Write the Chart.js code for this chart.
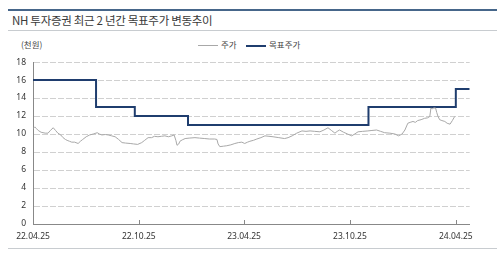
<!DOCTYPE html>
<html>
<head>
<meta charset="utf-8">
<script src="https://cdn.jsdelivr.net/npm/chart.js@4.4.1/dist/chart.umd.min.js"></script>
<style>
  body { margin: 0; background: #fff; width: 500px; height: 253px; overflow: hidden; position: relative;
         font-family: "Noto Sans CJK KR", "Noto Sans", sans-serif; }
  .topline { position: absolute; left: 8px; top: 9px; width: 489px; height: 2px; background: #46668a; }
  .title { position: absolute; left: 12px; top: 12px; font-size: 11.5px; color: #3a3a3a; letter-spacing: -0.3px; }
  .subline { position: absolute; left: 8px; top: 30px; width: 489px; height: 1px; background: #c8ccd0; }
  .bottomline { position: absolute; left: 8px; top: 248px; width: 489px; height: 1px; background: #c8ccd0; }
  .unit { position: absolute; left: 21px; top: 38px; font-size: 8.5px; color: #444; }
  .legend { position: absolute; top: 38px; font-size: 8.5px; color: #444; }
  .legend span.l { display: inline-block; width: 20px; vertical-align: middle; margin-right: 3px; }
  #wrap { position: absolute; left: 0; top: 50px; width: 480px; height: 198px; }
</style>
</head>
<body>
<div class="topline"></div>
<div class="title">NH 투자증권 최근 2 년간 목표주가 변동추이</div>
<div class="subline"></div>
<div class="unit">(천원)</div>
<div class="legend" style="left:198px"><span class="l" style="border-top:1px solid #a8a8a8"></span>주가</div>
<div class="legend" style="left:246px"><span class="l" style="border-top:2px solid #1f3d6e"></span>목표주가</div>
<div id="wrap"><canvas id="myChart"></canvas></div>
<div class="bottomline"></div>
<script>
// days since 22.04.25
var tickDays = [0, 183, 365, 548, 731];
var tickLabels = ['22.04.25', '22.10.25', '23.04.25', '23.10.25', '24.04.25'];
var yTicks = [0, 2, 4, 6, 8, 10, 12, 14, 16, 18];

var priceDay = [0, 3, 6, 9, 14, 21, 26, 30, 35, 39, 43, 48, 52, 56, 59, 63, 67, 72, 78, 82, 86, 92, 98, 104, 111, 115, 119, 125, 130, 136, 142, 148, 154, 160, 168, 174, 181,
  188, 193, 199, 205, 210, 216, 222, 228, 234, 240, 244, 247, 249, 252, 254, 258, 263, 270, 280, 288, 297, 305, 314, 318, 320, 323, 329, 335, 342, 349, 355, 361, 366,
  371, 375, 381, 387, 394, 401, 408, 415, 425, 435, 441, 448, 456, 465, 472, 479, 487, 496, 503, 510, 516, 522, 526, 530, 537, 544, 551, 556, 562, 570, 579, 586, 594,
  601, 608, 617, 626, 632, 638, 643, 646, 648, 652, 657, 661, 665, 671, 677, 682, 686, 688, 690, 693, 696, 698, 700, 703, 707, 712, 716, 721, 725, 729];
var priceVal = [10.6, 10.8, 10.6, 10.4, 10.2, 10.1, 10.1, 10.4, 10.7, 10.4, 10.1, 9.9, 9.6, 9.4, 9.3, 9.2, 9.1, 9.1, 8.95, 9.2, 9.4, 9.7, 9.9, 10.0, 10.15, 10.0, 9.9, 9.95, 9.9, 9.8, 9.7, 9.4, 9.05, 9.0, 8.95, 8.9, 8.85,
  9.05, 9.3, 9.6, 9.6, 9.75, 9.7, 9.75, 9.8, 9.7, 9.8, 9.9, 9.3, 8.75, 8.9, 9.2, 9.35, 9.5, 9.55, 9.6, 9.55, 9.5, 9.45, 9.45, 9.4, 8.9, 8.6, 8.65, 8.7, 8.8, 8.95, 9.05, 9.1, 8.95,
  9.1, 9.2, 9.3, 9.45, 9.6, 9.8, 9.75, 9.7, 9.6, 9.5, 9.6, 9.8, 10.1, 10.35, 10.3, 10.35, 10.3, 10.25, 10.45, 10.7, 10.4, 10.1, 10.3, 10.45, 10.2, 10.0, 9.8, 10.0, 10.25, 10.3,
  10.35, 10.4, 10.45, 10.3, 10.15, 10.1, 10.0, 9.8, 10.0, 10.45, 10.9, 11.2, 11.3, 11.4, 11.3, 11.5, 11.6, 11.75, 11.8, 11.95, 12.9, 12.8, 12.9, 12.9, 12.4, 12.0, 11.6, 11.5, 11.4, 11.2, 11.1, 11.5, 11.95];

var targetDay = [0, 109, 176, 268, 580, 731, 755];
var targetVal = [16, 13, 12, 11, 13, 15, 15];

function pts(xs, ys) { return xs.map(function (x, i) { return { x: x, y: ys[i] }; }); }

var tickMarks = {
  id: 'tickMarks',
  afterDraw: function (chart) {
    var c = chart.ctx, xs = chart.scales.x, b = chart.chartArea.bottom;
    c.save();
    c.strokeStyle = '#888';
    c.lineWidth = 1;
    tickDays.forEach(function (d, i) {
      if (i === 0) return;
      var px = Math.round(xs.getPixelForValue(d)) + 0.5;
      c.beginPath(); c.moveTo(px, b); c.lineTo(px, b - 4); c.stroke();
    });
    c.restore();
  }
};

var ctx = document.getElementById('myChart');
new Chart(ctx, {
  type: 'line',
  data: {
    datasets: [{
      label: '주가',
      data: pts(priceDay, priceVal),
      borderColor: '#a8a8a8',
      borderWidth: 1,
      pointRadius: 0,
      tension: 0
    }, {
      label: '목표주가',
      data: pts(targetDay, targetVal),
      borderColor: '#1f3d6e',
      borderWidth: 2,
      pointRadius: 0,
      stepped: 'before'
    }]
  },
  plugins: [tickMarks],
  options: {
    responsive: true,
    maintainAspectRatio: false,
    animation: false,
    layout: { padding: { top: 6, right: 10 } },
    plugins: { legend: { display: false }, tooltip: { enabled: false } },
    scales: {
      x: {
        type: 'linear',
        min: 0,
        max: 755,
        afterBuildTicks: function (s) { s.ticks = tickDays.map(function (d) { return { value: d }; }); },
        afterFit: function (s) { s.height = 24; },
        grid: { display: false, drawTicks: false },
        border: { display: true, color: '#888', width: 1 },
        ticks: {
          color: '#333',
          padding: 7,
          maxRotation: 0,
          font: { family: 'Noto Sans', size: 8.5 },
          callback: function (v) { var i = tickDays.indexOf(v); return i >= 0 ? tickLabels[i] : ''; }
        }
      },
      y: {
        min: 0,
        max: 18,
        afterBuildTicks: function (s) { s.ticks = yTicks.map(function (v) { return { value: v }; }); },
        afterFit: function (s) { s.width = 33; },
        grid: { color: '#d0d0d0', drawTicks: false },
        border: { display: true, color: '#888', width: 1, dash: [6, 2] },
        ticks: { color: '#333', padding: 7, font: { family: 'Noto Sans', size: 8.5 } }
      }
    }
  }
});
</script>
</body>
</html>
